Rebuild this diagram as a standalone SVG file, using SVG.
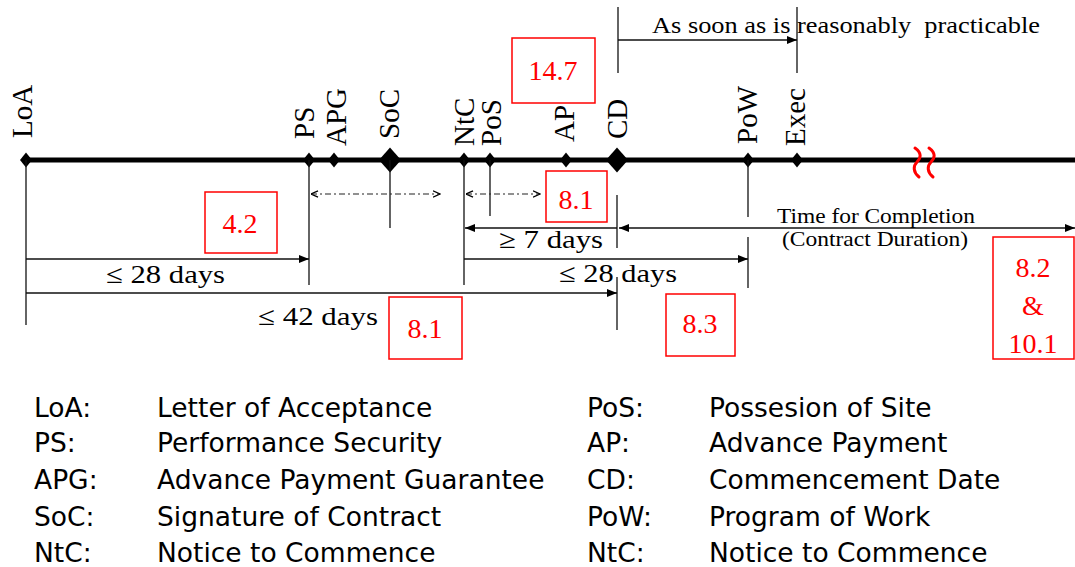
<svg xmlns="http://www.w3.org/2000/svg" width="1075" height="567" viewBox="0 0 1075 567">
  <style>
    .serif { font-family: "Liberation Serif", "Times New Roman", serif; fill: #000; }
    .tick { font-size: 29px; }
    .dim { font-size: 26px; }
    .small { font-size: 22px; }
    .thin { stroke: #111; stroke-width: 1.3; fill: none; }
    .dashdot { stroke: #222; stroke-width: 1.2; fill: none; stroke-dasharray: 6 3 2 3; }
    .ref rect { fill: #fff; stroke: #f00; stroke-width: 1.5; }
    .ref text { font-family: "Liberation Serif", "Times New Roman", serif; fill: #f00; font-size: 28px; text-anchor: middle; }
    .legend { font-family: "DejaVu Sans", Verdana, sans-serif; font-size: 26.5px; fill: #000; }
  </style>
  <defs>
    <marker id="solidHead" viewBox="0 0 10 8" refX="10" refY="4" markerWidth="10" markerHeight="8" markerUnits="userSpaceOnUse" orient="auto-start-reverse">
      <path d="M0,0 L10,4 L0,8 z" fill="#000"/>
    </marker>
    <marker id="openHead" viewBox="0 0 8 8" refX="7.5" refY="4" markerWidth="8" markerHeight="8" markerUnits="userSpaceOnUse" orient="auto-start-reverse">
      <path d="M0.5,0.8 L7.5,4 L0.5,7.2" fill="none" stroke="#000" stroke-width="1.3"/>
    </marker>
    <path id="diamondS" d="M0,-7.5 L6,0 L0,7.5 L-6,0 z" fill="#000"/>
    <path id="diamondL" d="M0,-12.5 L11,0 L0,12.5 L-11,0 z" fill="#000"/>
  </defs>

  <!-- main time axis -->
  <g id="axis">
    <line x1="25" y1="160" x2="1075" y2="160" stroke="#000" stroke-width="5"/>
    <!-- break symbol -->
    <path d="M915,148 C922,153 921,158 917,162 C913,166 913,172 919,177" fill="none" stroke="#f00" stroke-width="3" stroke-linecap="round"/>
    <path d="M929,148 C936,153 935,158 931,162 C927,166 927,172 933,177" fill="none" stroke="#f00" stroke-width="3" stroke-linecap="round"/>
  </g>

  <!-- milestones -->
  <g id="node-LoA">
    <use href="#diamondS" x="26" y="160"/>
    <text class="serif tick" transform="translate(32,138) rotate(-90)">LoA</text>
  </g>
  <g id="node-PS">
    <use href="#diamondS" x="309" y="160"/>
    <text class="serif tick" transform="translate(314,139) rotate(-90)">PS</text>
  </g>
  <g id="node-APG">
    <use href="#diamondS" x="334" y="160"/>
    <text class="serif tick" transform="translate(346,146) rotate(-90)">APG</text>
  </g>
  <g id="node-SoC">
    <use href="#diamondL" x="390" y="160"/>
    <text class="serif tick" transform="translate(399,139) rotate(-90)">SoC</text>
  </g>
  <g id="node-NtC">
    <use href="#diamondS" x="464" y="160"/>
    <text class="serif tick" transform="translate(474,146) rotate(-90)">NtC</text>
  </g>
  <g id="node-PoS">
    <use href="#diamondS" x="490" y="160"/>
    <text class="serif tick" transform="translate(501,146) rotate(-90)">PoS</text>
  </g>
  <g id="node-AP">
    <use href="#diamondS" x="566" y="160"/>
    <text class="serif tick" transform="translate(574,142) rotate(-90)">AP</text>
  </g>
  <g id="node-CD">
    <use href="#diamondL" x="617" y="160"/>
    <text class="serif tick" transform="translate(627,139) rotate(-90)">CD</text>
  </g>
  <g id="node-PoW">
    <use href="#diamondS" x="748" y="160"/>
    <text class="serif tick" transform="translate(757,144) rotate(-90)">PoW</text>
  </g>
  <g id="node-Exec">
    <use href="#diamondS" x="797" y="160"/>
    <text class="serif tick" transform="translate(805,146) rotate(-90)">Exec</text>
  </g>

  <!-- connectors: extension lines and dimension arrows -->
  <g id="connectors">
    <!-- extension lines -->
    <line class="thin" x1="26" y1="160" x2="26" y2="325"/>
    <line class="thin" x1="309" y1="160" x2="309" y2="285"/>
    <line class="thin" x1="390" y1="160" x2="390" y2="228"/>
    <line class="thin" x1="464" y1="160" x2="464" y2="285"/>
    <line class="thin" x1="490" y1="160" x2="490" y2="216"/>
    <line class="thin" x1="617" y1="195" x2="617" y2="248"/>
    <line class="thin" x1="617" y1="277" x2="617" y2="330"/>
    <line class="thin" x1="748" y1="160" x2="748" y2="217"/>
    <line class="thin" x1="748" y1="237" x2="748" y2="288"/>
    <line class="thin" x1="618" y1="7" x2="618" y2="73"/>
    <line class="thin" x1="797" y1="7" x2="797" y2="73"/>

    <!-- dash-dot spans -->
    <line class="dashdot" x1="311" y1="194" x2="440" y2="194" marker-start="url(#openHead)" marker-end="url(#openHead)"/>
    <line class="dashdot" x1="466" y1="194" x2="540" y2="194" marker-start="url(#openHead)" marker-end="url(#openHead)"/>

    <!-- solid dimension arrows -->
    <line class="thin" x1="618" y1="40" x2="797" y2="40" marker-end="url(#solidHead)"/>
    <line class="thin" x1="26" y1="259" x2="309" y2="259" marker-end="url(#solidHead)"/>
    <line class="thin" x1="26" y1="293" x2="617" y2="293" marker-end="url(#solidHead)"/>
    <line class="thin" x1="617" y1="228" x2="465" y2="228" marker-end="url(#solidHead)"/>
    <line class="thin" x1="464" y1="259" x2="748" y2="259" marker-end="url(#solidHead)"/>
    <line class="thin" x1="619" y1="228" x2="1075" y2="228" marker-start="url(#solidHead)" marker-end="url(#solidHead)"/>
  </g>

  <!-- dimension labels -->
  <g id="labels">
    <text class="serif" x="652" y="33" font-size="24" textLength="388" lengthAdjust="spacingAndGlyphs" xml:space="preserve">As soon as is reasonably  practicable</text>
    <text class="serif dim" x="106" y="283" textLength="119" lengthAdjust="spacingAndGlyphs">≤ 28 days</text>
    <text class="serif dim" x="258" y="325" textLength="120" lengthAdjust="spacingAndGlyphs">≤ 42 days</text>
    <text class="serif dim" x="499" y="248" textLength="104" lengthAdjust="spacingAndGlyphs">≥ 7 days</text>
    <text class="serif dim" x="559" y="282" textLength="118" lengthAdjust="spacingAndGlyphs">≤ 28 days</text>
    <text class="serif small" x="777" y="223" textLength="198" lengthAdjust="spacingAndGlyphs">Time for Completion</text>
    <text class="serif small" x="782" y="246" textLength="186" lengthAdjust="spacingAndGlyphs">(Contract Duration)</text>
  </g>

  <!-- clause references -->
  <g id="ref-14-7" class="ref">
    <rect x="512" y="38" width="83" height="65"/>
    <text x="553" y="80" font-size="29">14.7</text>
  </g>
  <g id="ref-4-2" class="ref">
    <rect x="205" y="192" width="72" height="61"/>
    <text x="240" y="233">4.2</text>
  </g>
  <g id="ref-8-1-upper" class="ref">
    <rect x="546" y="171" width="61" height="51"/>
    <text x="576" y="209" font-size="25">8.1</text>
  </g>
  <g id="ref-8-1-lower" class="ref">
    <rect x="389" y="297" width="73" height="62"/>
    <text x="425" y="338">8.1</text>
  </g>
  <g id="ref-8-3" class="ref">
    <rect x="666" y="294" width="69" height="62"/>
    <text x="700" y="333">8.3</text>
  </g>
  <g id="ref-8-2-10-1" class="ref">
    <rect x="993" y="237" width="81" height="122"/>
    <text x="1033" y="277">8.2</text>
    <text x="1033" y="315">&amp;</text>
    <text x="1033" y="353">10.1</text>
  </g>

  <!-- abbreviation key -->
  <g id="legend" class="legend">
    <text x="34" y="417">LoA:</text>
    <text x="157" y="417">Letter of Acceptance</text>
    <text x="34" y="452">PS:</text>
    <text x="157" y="452">Performance Security</text>
    <text x="34" y="489">APG:</text>
    <text x="157" y="489">Advance Payment Guarantee</text>
    <text x="34" y="526">SoC:</text>
    <text x="157" y="526">Signature of Contract</text>
    <text x="34" y="562">NtC:</text>
    <text x="157" y="562">Notice to Commence</text>

    <text x="587" y="417">PoS:</text>
    <text x="709" y="417">Possesion of Site</text>
    <text x="587" y="452">AP:</text>
    <text x="709" y="452">Advance Payment</text>
    <text x="587" y="489">CD:</text>
    <text x="709" y="489">Commencement Date</text>
    <text x="587" y="526">PoW:</text>
    <text x="709" y="526">Program of Work</text>
    <text x="587" y="562">NtC:</text>
    <text x="709" y="562">Notice to Commence</text>
  </g>
</svg>
